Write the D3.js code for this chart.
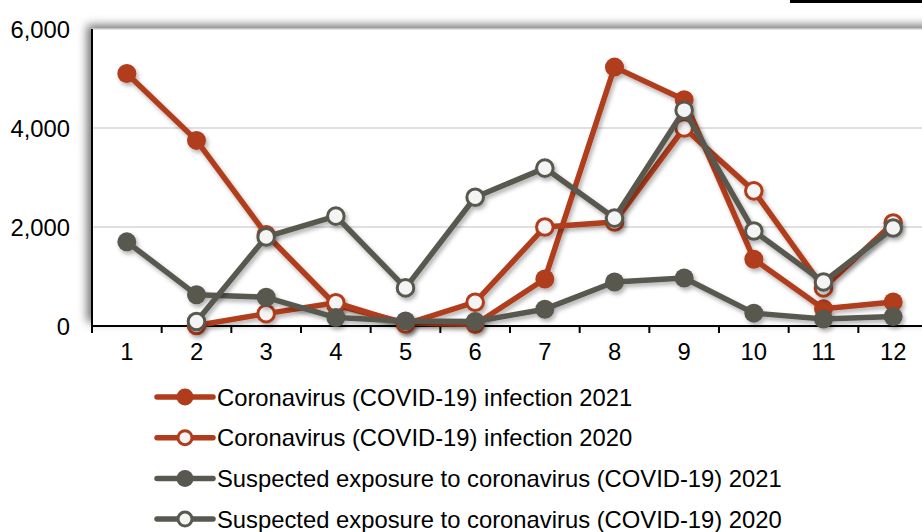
<!DOCTYPE html>
<html lang="en">
<head>
    <meta charset="UTF-8">
    <title>COVID-19 line chart</title>
    <script src="https://d3js.org/d3.v7.min.js"></script>
    <style>
        body { margin: 0; background: #fff; }
        svg { display: block; font-family: "Liberation Sans", Arial, sans-serif; }
        .axis text { font-size: 23.8px; fill: #000; }
        .legend text { font-size: 23.8px; fill: #000; }
    </style>
</head>
<body>
    <svg width="922" height="532"></svg>
    <script>
        // data
        var months = ["1", "2", "3", "4", "5", "6", "7", "8", "9", "10", "11", "12"];
        var infection2021 = [5100, 3750, 1850, 420, 60, 30, 950, 5230, 4570, 1350, 350, 485];
        var infection2020 = [null, 10, 250, 470, 40, 480, 2000, 2100, 4000, 2730, 770, 2080];
        var exposure2021 = [1700, 630, 580, 170, 100, 90, 340, 890, 970, 260, 140, 190];
        var exposure2020 = [null, 90, 1800, 2220, 770, 2600, 3190, 2180, 4360, 1920, 890, 1980];
        var yTicks = [0, 2000, 4000, 6000];

        var red = "#b03c1b", grey = "#585850";
        var series = [
            {name: "Coronavirus (COVID-19) infection 2021", values: infection2021, color: red, hollow: false},
            {name: "Coronavirus (COVID-19) infection 2020", values: infection2020, color: red, hollow: true},
            {name: "Suspected exposure to coronavirus (COVID-19) 2021", values: exposure2021, color: grey, hollow: false},
            {name: "Suspected exposure to coronavirus (COVID-19) 2020", values: exposure2020, color: grey, hollow: true}
        ];

        var svg = d3.select("svg"),
            margin = {top: 29, left: 92},
            height = 297,
            width = 836;

        var defs = svg.append("defs");
        defs.append("filter").attr("id", "boxShadow")
            .attr("x", "-10%").attr("y", "-20%").attr("width", "120%").attr("height", "140%")
            .append("feDropShadow")
            .attr("dx", -5).attr("dy", -4).attr("stdDeviation", 5)
            .attr("flood-color", "#000").attr("flood-opacity", 0.55);
        defs.append("filter").attr("id", "lineShadow")
            .attr("x", "-10%").attr("y", "-10%").attr("width", "120%").attr("height", "130%")
            .append("feDropShadow")
            .attr("dx", 2).attr("dy", 3).attr("stdDeviation", 2)
            .attr("flood-color", "#000").attr("flood-opacity", 0.3);

        // cropped bar at the top right of the source image
        svg.append("rect").attr("x", 790).attr("y", 0).attr("width", 132).attr("height", 3).attr("fill", "#000");

        var x = d3.scaleBand().domain(months).range([0, width]),
            y = d3.scaleLinear().domain([0, 6000]).range([height, 0]);

        var g = svg.append("g")
            .attr("transform", "translate(" + margin.left + "," + margin.top + ")");

        g.append("rect")
            .attr("width", width + 20).attr("height", height)
            .attr("fill", "#fff")
            .attr("filter", "url(#boxShadow)");

        // gridlines
        g.selectAll(".grid")
            .data(yTicks.slice(1))
            .enter().append("line")
            .attr("x1", 0).attr("x2", width + 20)
            .attr("y1", function (d) { return y(d); })
            .attr("y2", function (d) { return y(d); })
            .attr("stroke", "#d6d6d6").attr("stroke-width", 1.5);

        // y axis
        var yAxis = g.append("g")
            .attr("class", "axis")
            .call(d3.axisLeft(y).tickValues(yTicks).tickFormat(d3.format(",")).tickSize(0).tickPadding(22));
        yAxis.select(".domain").remove();
        yAxis.selectAll("text").attr("dy", "0.36em");
        g.append("line")
            .attr("x1", 0).attr("x2", 0).attr("y1", 0).attr("y2", height + 6)
            .attr("stroke", "#000").attr("stroke-width", 2);

        // x axis: ticks between categories
        var xAxis = g.append("g")
            .attr("class", "axis")
            .attr("transform", "translate(0," + height + ")")
            .call(d3.axisBottom(x).tickSize(0).tickPadding(17));
        xAxis.select(".domain").remove();
        xAxis.append("line")
            .attr("x1", 0).attr("x2", width + 20)
            .attr("stroke", "#000").attr("stroke-width", 2);
        xAxis.selectAll(".sep")
            .data(months)
            .enter().append("line")
            .attr("x1", function (d) { return x(d); })
            .attr("x2", function (d) { return x(d); })
            .attr("y1", 0).attr("y2", 7)
            .attr("stroke", "#000").attr("stroke-width", 2);

        var line = d3.line()
            .defined(function (d) { return d != null; })
            .x(function (d, i) { return x(months[i]) + x.bandwidth() / 2; })
            .y(function (d) { return y(d); });

        series.forEach(function (s) {
            var sg = g.append("g").attr("filter", "url(#lineShadow)");
            sg.append("path")
                .datum(s.values)
                .attr("d", line)
                .attr("fill", "none")
                .attr("stroke", s.color)
                .attr("stroke-width", 5.5)
                .attr("stroke-linejoin", "round");
            sg.selectAll("circle")
                .data(s.values.map(function (v, i) { return {v: v, m: months[i]}; })
                    .filter(function (d) { return d.v != null; }))
                .enter().append("circle")
                .attr("cx", function (d) { return x(d.m) + x.bandwidth() / 2; })
                .attr("cy", function (d) { return y(d.v); })
                .attr("r", s.hollow ? 8.3 : 9.5)
                .attr("fill", s.hollow ? "#f4f4f4" : s.color)
                .attr("stroke", s.color)
                .attr("stroke-width", s.hollow ? 3 : 0);
        });

        // legend
        var legend = svg.append("g").attr("class", "legend")
            .attr("transform", "translate(157,397)");
        var row = legend.selectAll("g")
            .data(series)
            .enter().append("g")
            .attr("transform", function (d, i) { return "translate(0," + (i * 40.7) + ")"; });
        row.append("line")
            .attr("x1", 0).attr("x2", 56)
            .attr("stroke", function (d) { return d.color; })
            .attr("stroke-width", 5.5).attr("stroke-linecap", "round");
        row.append("circle")
            .attr("cx", 28).attr("r", function (d) { return d.hollow ? 7 : 8.5; })
            .attr("fill", function (d) { return d.hollow ? "#f4f4f4" : d.color; })
            .attr("stroke", function (d) { return d.color; })
            .attr("stroke-width", function (d) { return d.hollow ? 3 : 0; });
        row.append("text")
            .attr("x", 60).attr("dy", "0.36em")
            .text(function (d) { return d.name; });
    </script>
</body>
</html>
